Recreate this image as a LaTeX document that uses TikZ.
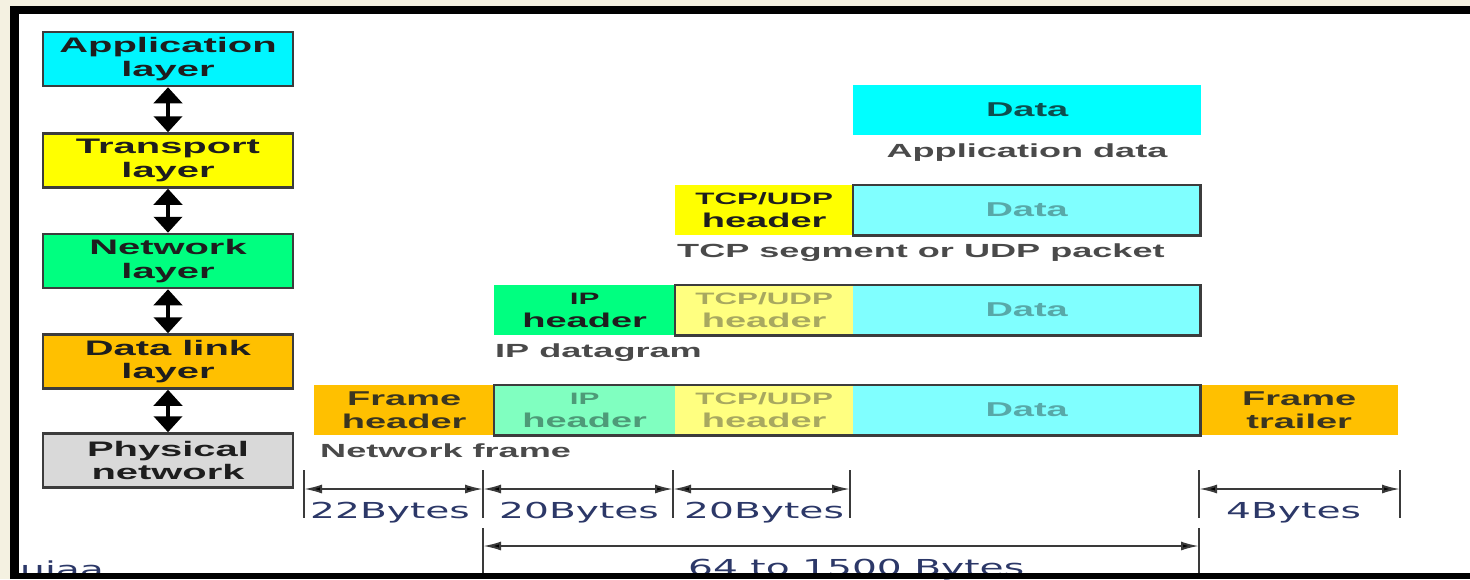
\documentclass[tikz,border=0pt]{standalone}
\usepackage{fontspec}
\setmainfont{Liberation Sans}
\newfontfamily\lbl[FakeStretch=1.9]{Liberation Sans}
\newfontfamily\dimfont[FakeStretch=1.78]{DejaVu Sans}
\usetikzlibrary{arrows.meta}

\definecolor{paper}{HTML}{F4F1E1}
\definecolor{appcyan}{HTML}{00F6FF}
\definecolor{purecyan}{HTML}{00FFFF}
\definecolor{lightcyan}{HTML}{80FFFF}
\definecolor{hdryellow}{HTML}{FFFF00}
\definecolor{paleyellow}{HTML}{FFFF80}
\definecolor{netgreen}{HTML}{00FF80}
\definecolor{palegreen}{HTML}{80FFC0}
\definecolor{amber}{HTML}{FFC000}
\definecolor{physgrey}{HTML}{D9D9D9}
\definecolor{boxline}{HTML}{3C3C3C}
\definecolor{darktext}{HTML}{1E1E1E}
\definecolor{darkteal}{HTML}{0E4E4E}
\definecolor{fadeteal}{HTML}{58A8A8}
\definecolor{fadeolive}{HTML}{A8A860}
\definecolor{fadegreen}{HTML}{4E9A78}
\definecolor{darkolive}{HTML}{3A3520}
\definecolor{captext}{HTML}{4A4A4A}
\definecolor{dimtext}{HTML}{2C3868}
\definecolor{dimline}{HTML}{3A3A3A}

\tikzset{
  layerbox/.style={draw=boxline, line width=2.5pt, minimum width=250pt,
    minimum height=54pt, inner sep=0pt, align=center, text=darktext,
    font=\lbl\bfseries\fontsize{21}{23.5}\selectfont},
  layerarrow/.style={arrows={Triangle[length=16pt,width=28pt]-Triangle[length=16pt,width=28pt]},
    line width=4pt, black},
  seg/.style={minimum width=#1, minimum height=50pt, inner sep=0pt,
    anchor=north west, align=center, text=darktext,
    font=\lbl\bfseries\fontsize{20}{22.5}\selectfont},
  caption/.style={inner sep=0pt, text=captext,
    font=\lbl\bfseries\fontsize{19}{21}\selectfont},
  framing/.style={draw=boxline, line width=2.5pt},
  tick/.style={draw=dimline, line width=2pt},
  dimarrow/.style={arrows={Latex[length=18pt,width=9pt,fill=black]-Latex[length=18pt,width=9pt,fill=black]},
    draw=dimline, line width=2pt},
  dimlabel/.style={inner sep=0pt, anchor=base west, text=dimtext,
    font=\dimfont\fontsize{22}{24}\selectfont},
}
\newcommand{\smallhdr}[1]{\fontsize{16.5}{18}\selectfont #1\\\fontsize{20}{22.5}\selectfont header}

\begin{document}
\begin{tikzpicture}[x=1pt,y=-1pt]
\useasboundingbox (0,0) rectangle (1470,579);
% page and frame
\fill[paper] (0,0) rectangle (1470,579);
\fill[black] (10,6) rectangle (1470,579);
\fill[white] (19,14) rectangle (1470,573);

% protocol stack
\node[layerbox, fill=appcyan]   (app) at (168,59)    {Application\\layer};
\node[layerbox, fill=hdryellow] (trn) at (168,160.5) {Transport\\layer};
\node[layerbox, fill=netgreen]  (net) at (168,261)   {Network\\layer};
\node[layerbox, fill=amber]     (dll) at (168,361.5) {Data link\\layer};
\node[layerbox, fill=physgrey]  (phy) at (168,460.5) {Physical\\network};
\draw[layerarrow] (app.south) -- (trn.north);
\draw[layerarrow] (trn.south) -- (net.north);
\draw[layerarrow] (net.south) -- (dll.north);
\draw[layerarrow] (dll.south) -- (phy.north);

% application data
\node[seg=348pt, fill=purecyan, text=darkteal] (data1) at (853,85) {Data};
\node[caption, anchor=base] (cap1) at (1027,157) {Application data};

% transport segment
\node[seg=178pt, fill=hdryellow] (tcp2) at (675,185) {\smallhdr{TCP/UDP}};
\node[seg=347pt, fill=lightcyan, text=fadeteal] (data2) at (853,185) {Data};
\draw[framing] (data2.north west) rectangle (data2.south east);
\node[caption, anchor=base west] (cap2) at (677,257) {TCP segment or UDP packet};

% IP datagram
\node[seg=181pt, fill=netgreen] (ip3) at (494,285) {\smallhdr{IP}};
\node[seg=178pt, fill=paleyellow, text=fadeolive] (tcp3) at (675,285) {\smallhdr{TCP/UDP}};
\node[seg=347pt, fill=lightcyan, text=fadeteal] (data3) at (853,285) {Data};
\draw[framing] (tcp3.north west) rectangle (data3.south east);
\node[caption, anchor=base west] (cap3) at (495,357) {IP datagram};

% network frame
\node[seg=180pt, fill=amber, text=darkolive] (fh) at (314,385) {Frame\\header};
\node[seg=181pt, fill=palegreen, text=fadegreen] (ip4) at (494,385) {\smallhdr{IP}};
\node[seg=178pt, fill=paleyellow, text=fadeolive] (tcp4) at (675,385) {\smallhdr{TCP/UDP}};
\node[seg=347pt, fill=lightcyan, text=fadeteal] (data4) at (853,385) {Data};
\node[seg=198pt, fill=amber, text=darkolive] (ft) at (1200,385) {Frame\\trailer};
\draw[framing] (ip4.north west) rectangle (data4.south east);
\node[caption, anchor=base west] (cap4) at (320,457) {Network frame};

% field size dimensions
\foreach \n/\x in {0/304,1/483,2/673,3/850,4/1199,5/1400}{
  \coordinate (ta\n) at (\x,470);
  \coordinate (tb\n) at (\x,518);
  \coordinate (m\n) at (\x,489);
  \draw[tick] (ta\n) -- (tb\n);
}
\draw[dimarrow] (m0) -- (m1);
\draw[dimarrow] (m1) -- (m2);
\draw[dimarrow] (m2) -- (m3);
\draw[dimarrow] (m4) -- (m5);
\node[dimlabel] (d22) at (310,518) {22Bytes};
\node[dimlabel] (d20a) at (499,518) {20Bytes};
\node[dimlabel] (d20b) at (684,518) {20Bytes};
\node[dimlabel] (d4) at (1226,518) {4Bytes};

% total payload span
\coordinate (la) at (483,528);
\coordinate (lb) at (483,574);
\coordinate (ra) at (1199,528);
\coordinate (rb) at (1199,574);
\coordinate (lm) at (483,546);
\coordinate (rm) at (1199,546);
\draw[tick] (la) -- (lb);
\draw[tick] (ra) -- (rb);
\draw[dimarrow] (lm) -- (rm);
\node[dimlabel] (dtot) at (688,575) {64 to 1500 Bytes};
\node[dimlabel] (frag) at (20,577) {uiaa};

% lower frame edge
\fill[black] (10,573) rectangle (1470,579);
\end{tikzpicture}
\end{document}
